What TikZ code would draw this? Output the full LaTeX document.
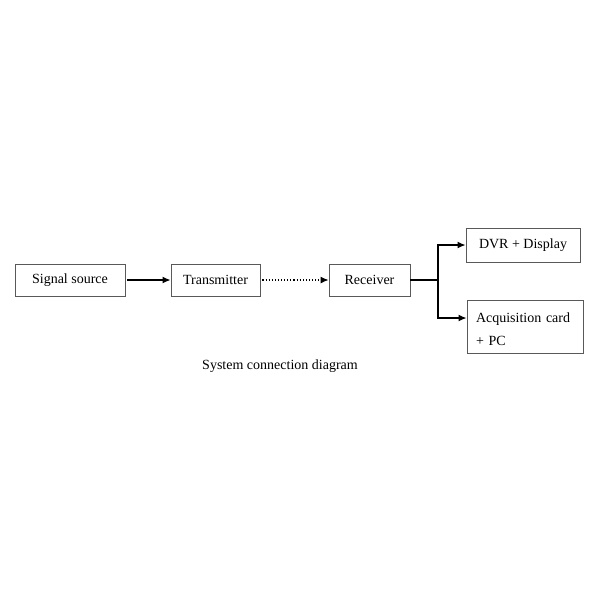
\documentclass[tikz,border=0pt]{standalone}
\usepackage{fontspec}
\setmainfont{Liberation Serif}
\usetikzlibrary{arrows.meta}
\begin{document}
\begin{tikzpicture}[x=1pt,y=-1pt,
  box/.style={draw=black!65,line width=0.9pt,minimum height=32pt,inner sep=0pt,font=\fontsize{14}{23}\selectfont},
  arr/.style={line width=1.3pt,-{Latex[length=8pt,width=7pt]}},
  lnk/.style={line width=1.3pt}]
\fill[white] (0,0) rectangle (600,600);
\useasboundingbox (0,0) rectangle (600,600);
\node[box,minimum width=110pt] (src) at (70,280) {Signal source};
\node[box,minimum width=89pt] (tx) at (215.5,280) {Transmitter};
\node[box,minimum width=81pt] (rx) at (369.5,280) {Receiver};
\node[box,minimum width=114pt,minimum height=34pt] (dvr) at (523,245) {DVR + Display};
\node[box,minimum width=116pt,minimum height=53pt,text width=98pt,align=left] (acq) at (525,326.5) {\rule{0pt}{16pt}Acquisition card\\+ PC};
\node[font=\fontsize{14}{17}\selectfont] (cap) at (280,366) {System connection diagram};
\coordinate (br) at (438,280);
\draw[arr] ([xshift=2pt]src.east) -- (tx.west);
\draw[line width=1.1pt,dotted,-{Latex[length=8pt,width=7pt]}] ([xshift=2pt]tx.east) -- (rx.west);
\draw[lnk] (rx.east) -- (br);
\draw[arr] (br) |- (dvr.west);
\draw[arr] (br) |- ([yshift=8.5pt]acq.west);
\end{tikzpicture}
\end{document}
